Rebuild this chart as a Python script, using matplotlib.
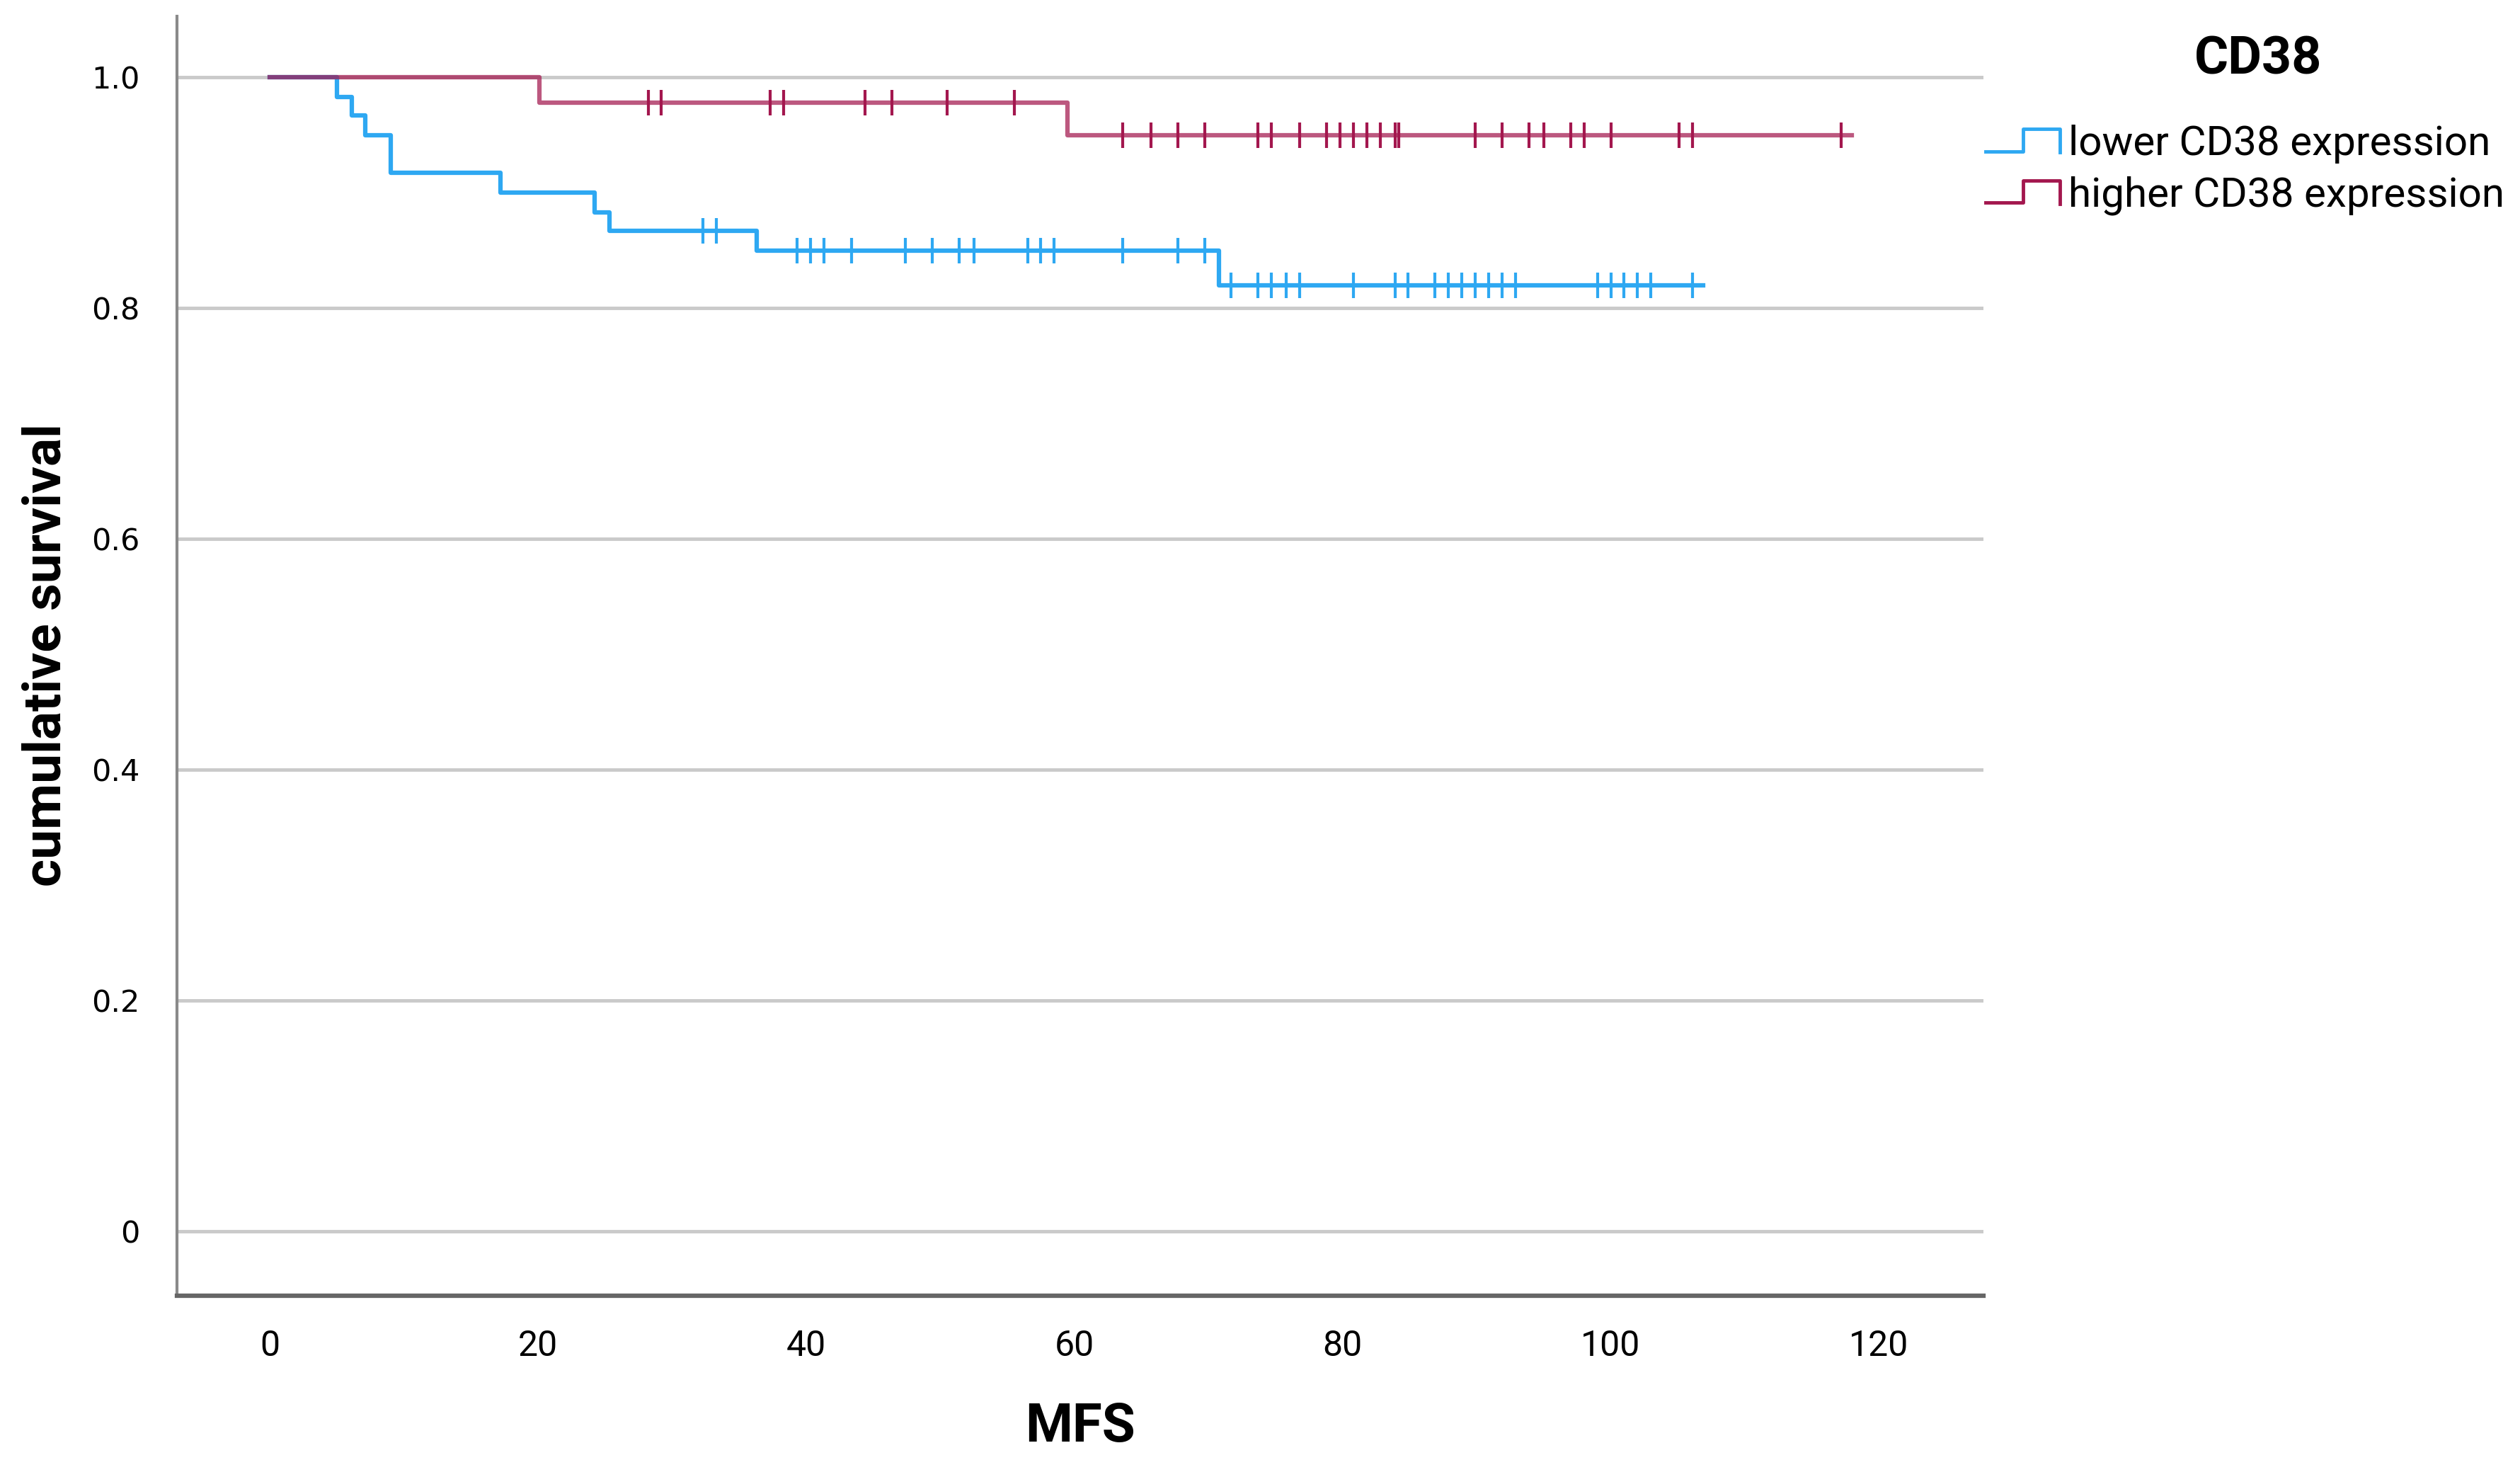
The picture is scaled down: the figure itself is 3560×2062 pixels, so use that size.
import numpy as np
import matplotlib
matplotlib.use("Agg")
import matplotlib.pyplot as plt
from matplotlib.lines import Line2D
from matplotlib.legend_handler import HandlerBase
from matplotlib.font_manager import FontProperties

# === data ===
blue_times = [0, 5.0, 6.1, 7.1, 9.0, 17.2, 24.2, 25.3, 36.3, 70.8, 106.9]
blue_surv = [1.0, 0.983, 0.967, 0.950, 0.917, 0.900, 0.883, 0.867, 0.850, 0.820, 0.820]
blue_censor = [32.3, 33.3, 39.3, 40.3, 41.3, 43.4, 47.4, 49.4, 51.4, 52.5, 56.5, 57.5, 58.5,
               63.6, 67.7, 69.7, 71.7, 73.7, 74.7, 75.8, 76.8, 80.8, 83.9, 84.9, 86.9, 87.9,
               88.9, 89.9, 90.9, 91.9, 92.9, 99.0, 100.0, 101.0, 102.0, 103.0, 106.1]

red_times = [0, 20.1, 59.5, 118.0]
red_surv = [1.0, 0.978, 0.950, 0.950]
red_censor = [28.2, 29.2, 37.3, 38.3, 44.4, 46.4, 50.5, 55.5, 63.6, 65.7, 67.7, 69.7,
              73.7, 74.7, 76.8, 78.8, 79.8, 80.8, 81.8, 82.8, 83.9, 84.2, 89.9, 91.9,
              93.9, 95.0, 97.0, 98.0, 100.0, 105.1, 106.1, 117.2]

labels = ["lower CD38 expression", "higher CD38 expression"]
legend_title = "CD38"
xticks = [0, 20, 40, 60, 80, 100, 120]
yticks = [0, 0.2, 0.4, 0.6, 0.8, 1.0]
ytick_labels = ["0", "0.2", "0.4", "0.6", "0.8", "1.0"]

BLUE = "#2EA8F2"
RED = "#A3174E"

NARROW = ["Roboto", "DejaVu Sans"]


def surv_at(times, surv, t):
    # value of the step function at time t
    idx = np.searchsorted(times, t, side="right") - 1
    return np.asarray(surv)[idx]


class StepHandler(HandlerBase):
    def create_artists(self, legend, orig_handle, xdescent, ydescent,
                       width, height, fontsize, trans):
        x0, y0 = -xdescent, -ydescent
        xs = [x0, x0 + 0.5 * width, x0 + 0.5 * width, x0 + width, x0 + width]
        ys = [y0 + 0.1 * height, y0 + 0.1 * height, y0 + 0.95 * height,
              y0 + 0.95 * height, y0 + 0.05 * height]
        line = Line2D(xs, ys, color=orig_handle.get_color(), lw=3.5)
        line.set_transform(trans)
        return [line]


fig = plt.figure(figsize=(35.6, 20.62), dpi=100)
ax = fig.add_axes([0.0702, 0.1125, 0.7169, 0.8763])

# gridlines
for y in yticks:
    ax.axhline(y, color="#CACACA", lw=3.5, zorder=0)

# curves
ax.step(blue_times, blue_surv, where="post", color=BLUE, lw=4.5, zorder=2)
ax.plot(blue_censor, surv_at(blue_times, blue_surv, blue_censor), ls="none",
        marker="|", ms=26, mew=3, color=BLUE, zorder=3)
ax.step(red_times, red_surv, where="post", color=RED, lw=4.5, alpha=0.72, zorder=4)
ax.plot(red_censor, surv_at(red_times, red_surv, red_censor), ls="none",
        marker="|", ms=26, mew=3, color=RED, zorder=5)

ax.set_xlim(-6.94, 127.8)
ax.set_ylim(-0.0558, 1.0528)

ax.set_xticks(xticks)
ax.set_xticklabels([str(t) for t in xticks], family=NARROW, fontsize=36)
ax.set_yticks(yticks)
ax.set_yticklabels(ytick_labels, family="DejaVu Sans", fontsize=31)
ax.tick_params(axis="x", length=0, pad=34)
ax.tick_params(axis="y", length=0, pad=38)

for s in ["top", "right"]:
    ax.spines[s].set_visible(False)
ax.spines["left"].set_color("#8A8A8A")
ax.spines["left"].set_linewidth(3)
ax.spines["bottom"].set_color("#666666")
ax.spines["bottom"].set_linewidth(4.5)

ax.set_ylabel("cumulative survival", family=NARROW, fontweight="bold", fontsize=54,
              va="center")
ax.yaxis.set_label_coords(-0.0722, 0.501)
ax.set_xlabel("MFS", family=NARROW, fontweight="bold", fontsize=55, va="center")
ax.xaxis.set_label_coords(0.5, -0.1025)

handles = [Line2D([], [], color=BLUE), Line2D([], [], color=RED)]
ax.legend(handles, labels, loc="upper left", bbox_to_anchor=(0.788, 0.9145),
          bbox_transform=fig.transFigure, frameon=False, borderpad=0,
          borderaxespad=0, handler_map={Line2D: StepHandler()},
          handlelength=1.8, handleheight=0.6, handletextpad=0.2, labelspacing=0.3,
          prop=FontProperties(family=NARROW, size=42))
fig.text(0.896, 0.959, legend_title, ha="center", va="center",
         family=NARROW, fontweight="bold", fontsize=53)

fig.savefig("out.png", dpi=100, facecolor="white")
